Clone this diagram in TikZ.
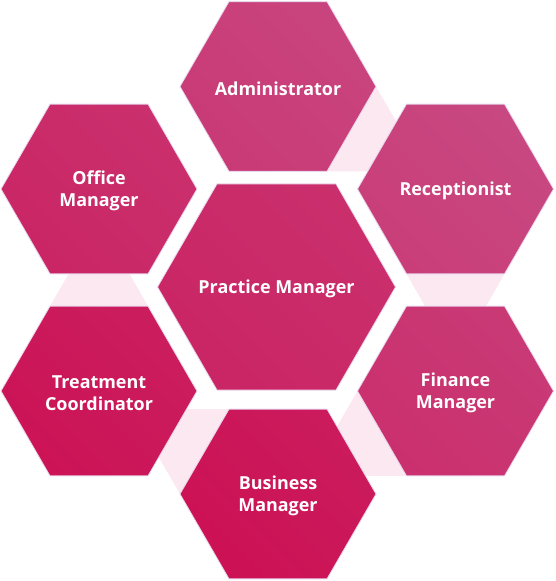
\documentclass[tikz,border=0pt]{standalone}
\usepackage{fontspec}
\setmainfont{Open Sans}
\usetikzlibrary{shapes.geometric,calc,backgrounds}
\definecolor{hdark}{RGB}{204,12,80}
\definecolor{hlight}{RGB}{200,76,132}
\definecolor{pale}{RGB}{252,232,240}
\definecolor{hedge}{RGB}{232,214,238}
\tikzset{
  hexbase/.style={regular polygon, regular polygon sides=6, inner sep=0pt, outer sep=0pt,
    draw=hedge, line width=0.8bp},
  outerhex/.style={hexbase, minimum size=196bp},
  centerhex/.style={hexbase, minimum size=238bp},
  shadehex/.style 2 args={top color=hlight!#1!hdark, bottom color=hlight!#2!hdark, shading angle=-45},
  hexlabel/.style={text=white, font=\bfseries\fontsize{18}{22}\selectfont, align=center, inner sep=0pt},
  paletri/.style={fill=pale, draw=none}
}
\begin{document}
\begin{tikzpicture}[x=1bp,y=1bp]
\useasboundingbox (0,0) rectangle (556,-581);
\node[centerhex, shadehex={55}{39}] (pm)  at (276.5,-287)  {};
\node[outerhex, shadehex={88}{72}]  (adm) at (278,-86.5)   {};
\node[outerhex, shadehex={94}{78}]  (rec) at (455.5,-189)  {};
\node[outerhex, shadehex={72}{56}]  (fin) at (455.5,-391)  {};
\node[outerhex, shadehex={24}{8}]   (bus) at (278,-494)    {};
\node[outerhex, shadehex={27}{11}]  (tre) at (99,-391)     {};
\node[outerhex, shadehex={56}{40}]  (off) at (99,-189)     {};
\node[hexlabel] (pmt)  at ($(pm.center)+(0,-2)$)  {Practice Manager};
\node[hexlabel] (admt) at ($(adm.center)+(0,-2)$) {Administrator};
\node[hexlabel] (rect) at ($(rec.center)+(0,-2)$) {Receptionist};
\node[hexlabel] (fint) at ($(fin.center)+(0,-2)$) {Finance\\Manager};
\node[hexlabel] (bust) at ($(bus.center)+(0,-2)$) {Business\\Manager};
\node[hexlabel] (tret) at ($(tre.center)+(0,-2)$) {Treatment\\Coordinator};
\node[hexlabel] (offt) at ($(off.center)+(0,-2)$) {Office\\Manager};
\begin{scope}[on background layer]
  \fill[paletri] (adm.0) -- (adm.300) -- ($(adm.300)+(98,0)$) -- cycle;
  \fill[paletri] (rec.240) -- (rec.300) -- ($(rec.center)+(0,-170)$) -- cycle;
  \fill[paletri] (fin.180) -- (fin.240) -- ($(fin.240)+(-98,0)$) -- cycle;
  \fill[paletri] (bus.180) -- (bus.120) -- ($(bus.120)+(-98,0)$) -- cycle;
  \fill[paletri] (tre.60) -- (tre.120) -- ($(tre.center)+(0,170)$) -- cycle;
\end{scope}
\end{tikzpicture}
\end{document}
